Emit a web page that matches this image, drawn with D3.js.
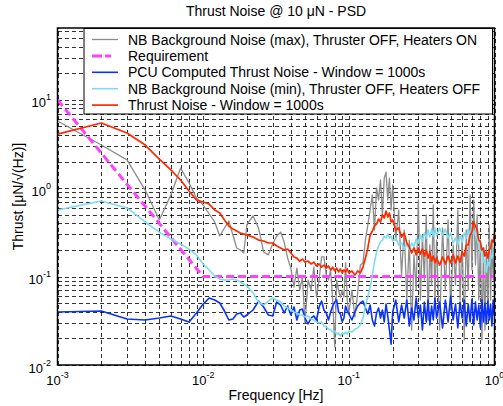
<!DOCTYPE html>
<html><head><meta charset="utf-8">
<script src="https://d3js.org/d3.v7.min.js"></script>
<style>
body{margin:0;background:#fff}
svg{display:block;font-family:"Liberation Sans",Arial,Helvetica,sans-serif}
</style>
</head><body>
<svg id="c" width="503" height="406"></svg>
<script>
// ---------------- DATA ----------------
const freq = [0.001,0.002,0.003,0.004,0.005,0.006,0.007,0.008,0.009,0.010,0.011,0.012,0.013,0.014,0.015,0.016,0.017,0.018,0.019,0.020,
0.022,0.024,0.026,0.028,0.030,0.032,0.034,0.036,0.038,0.040,0.042,0.044,0.046,0.048,0.050,
0.0525,0.055,0.0575,0.060,0.0625,0.065,0.0675,0.070,0.0725,0.075,0.0775,0.080,0.0825,0.085,0.0875,0.090,0.0925,0.095,0.0975,0.100,
0.105,0.110,0.115,0.120,0.125,0.130,0.135,0.140,0.145,0.150,0.155,0.160,0.165,0.170,0.175,0.180,0.185,0.190,0.195,0.200,
0.21,0.22,0.23,0.24,0.25,0.26,0.27,0.28,0.29,0.30,0.31,0.32,0.33,0.34,0.35,0.36,0.37,0.38,0.39,0.40,
0.42,0.44,0.46,0.48,0.50,0.52,0.54,0.56,0.58,0.60,0.62,0.64,0.66,0.68,0.70,0.72,0.74,0.76,0.78,0.80,0.82,0.84,0.86,0.88,0.90,0.92,0.94,0.96,0.98,1.00];

// NB Background Noise (max), Thruster OFF, Heaters ON
const bgMax = [5.76,3.08,2.09,0.954,0.437,0.838,1.69,1.15,0.775,0.646,0.511,0.415,0.288,0.355,0.426,0.296,0.211,0.200,0.185,0.393,
0.485,0.355,0.190,0.176,0.234,0.288,0.319,0.246,0.162,0.125,0.0762,0.125,0.0705,0.0989,0.0299,
0.0915,0.0705,0.128,0.0588,0.0915,0.167,0.167,0.104,0.0915,0.119,0.0544,0.0160,0.0915,0.0705,0.0588,0.0705,0.0588,0.143,0.0544,0.0388,
0.0705,0.0349,0.0652,0.135,0.143,0.259,0.384,0.567,0.838,0.337,1.01,0.736,1.24,0.498,1.30,1.52,0.736,1.30,0.567,1.09,
0.259,0.567,0.104,0.337,0.0544,0.259,0.0249,0.176,0.0705,0.736,0.0544,0.296,0.0915,0.498,0.0323,0.228,0.0804,0.646,0.0544,0.259,
0.0249,0.355,0.0705,0.437,0.0419,0.228,0.0804,0.567,0.0544,0.296,0.0192,0.337,0.0705,0.838,0.119,0.736,0.135,0.498,0.0544,0.259,0.0192,0.200,0.0249,0.228,0.0419,0.384,0.0544,0.259,0.0915,0.200];

// PCU Computed Thrust Noise - Window = 1000s
const pcuNoise = [0.0398,0.0408,0.0331,0.0323,0.0340,0.0359,0.0331,0.0307,0.0388,0.0489,0.0573,0.0544,0.0503,0.0408,0.0323,0.0331,0.0378,0.0388,0.0349,0.0368,
0.0419,0.0529,0.0453,0.0368,0.0359,0.0516,0.0477,0.0388,0.0465,0.0368,0.0453,0.0323,0.0419,0.0430,0.0340,
0.0291,0.0340,0.0359,0.0323,0.0453,0.0529,0.0419,0.0388,0.0323,0.0398,0.0465,0.0516,0.0544,0.0398,0.0378,0.0307,0.0340,0.0465,0.0408,0.0378,
0.0323,0.0398,0.0465,0.0503,0.0529,0.0442,0.0378,0.0477,0.0323,0.0276,0.0388,0.0442,0.0340,0.0419,0.0307,0.0489,0.0359,0.0249,0.0172,0.0398,
0.0544,0.0307,0.0477,0.0340,0.0544,0.0276,0.0442,0.0323,0.0573,0.0340,0.0477,0.0249,0.0516,0.0307,0.0544,0.0284,0.0465,0.0323,0.0573,0.0340,
0.0516,0.0262,0.0544,0.0307,0.0604,0.0323,0.0489,0.0262,0.0516,0.0340,0.0544,0.0276,0.0489,0.0307,0.0558,0.0284,0.0516,0.0323,0.0477,0.0262,0.0544,0.0307,0.0503,0.0291,0.0529,0.0323,0.0489,0.0276,0.0544,0.0359];

// NB Background Noise (min), Thruster OFF, Heaters OFF
const bgMin = [0.567,0.717,0.598,0.415,0.319,0.266,0.234,0.205,0.176,0.139,0.119,0.102,0.0939,0.0915,0.0915,0.0939,0.0915,0.0869,0.0825,0.0783,
0.0652,0.0516,0.0477,0.0529,0.0573,0.0544,0.0516,0.0465,0.0442,0.0419,0.0398,0.0388,0.0368,0.0368,0.0349,
0.0359,0.0331,0.0323,0.0307,0.0299,0.0307,0.0276,0.0269,0.0255,0.0249,0.0236,0.0242,0.0224,0.0230,0.0213,0.0230,0.0224,0.0236,0.0224,0.0242,
0.0236,0.0255,0.0262,0.0284,0.0340,0.0477,0.0588,0.0762,0.104,0.146,0.190,0.222,0.246,0.259,0.288,0.273,0.303,0.273,0.288,0.253,
0.273,0.228,0.240,0.205,0.234,0.200,0.240,0.216,0.266,0.240,0.296,0.253,0.311,0.273,0.337,0.280,0.345,0.288,0.355,0.288,
0.355,0.296,0.345,0.273,0.311,0.240,0.273,0.228,0.288,0.246,0.311,0.273,0.345,0.288,0.355,0.296,0.337,0.259,0.228,0.190,0.200,0.146,0.154,0.113,0.146,0.132,0.176,0.162,0.211,0.180];

// Thrust Noise - Window = 1000s
const thrustNoise = [4.10,5.47,4.21,3.08,2.14,1.61,1.24,0.930,0.736,0.698,0.662,0.567,0.524,0.437,0.374,0.345,0.328,0.311,0.303,0.296,
0.280,0.259,0.253,0.240,0.240,0.222,0.211,0.200,0.205,0.185,0.167,0.162,0.150,0.158,0.146,
0.150,0.139,0.146,0.132,0.139,0.128,0.135,0.125,0.132,0.119,0.128,0.116,0.125,0.113,0.122,0.110,0.119,0.113,0.122,0.110,
0.116,0.104,0.116,0.110,0.128,0.162,0.211,0.296,0.328,0.374,0.393,0.448,0.415,0.498,0.460,0.552,0.472,0.524,0.415,0.437,
0.337,0.355,0.280,0.311,0.240,0.216,0.185,0.211,0.176,0.211,0.180,0.205,0.171,0.200,0.162,0.190,0.150,0.171,0.143,0.162,
0.135,0.167,0.139,0.171,0.143,0.176,0.143,0.171,0.146,0.190,0.171,0.228,0.228,0.296,0.319,0.415,0.374,0.337,0.259,0.246,0.200,0.211,0.171,0.190,0.162,0.200,0.211,0.259,0.246,0.311];

// Requirement
const reqFreq = [0.001, 0.01, 1];
const reqVal  = [10, 0.1, 0.1];

const xTickVals = [1e-3, 1e-2, 1e-1, 1];
const xTickExp  = ["-3", "-2", "-1", "0"];
const yTickVals = [1e-2, 1e-1, 1, 10];
const yTickExp  = ["-2", "-1", "0", "1"];

const legendLabels = [
  "NB Background Noise (max), Thruster OFF, Heaters ON",
  "Requirement",
  "PCU Computed Thrust Noise - Window = 1000s",
  "NB Background Noise (min), Thruster OFF, Heaters OFF",
  "Thrust Noise - Window = 1000s"
];
const titleText = "Thrust Noise @ 10 \u03bcN - PSD";
const xLabelText = "Frequency [Hz]";
const yLabelText = "Thrust [\u03bcN/\u221a(Hz)]";

// ---------------- LAYOUT ----------------
const L = 57.5, R = 494.5, T = 28, B = 365;
const svg = d3.select("#c");
const x = d3.scaleLog().domain([1e-3, 1]).range([L, R]);
const y = d3.scaleLog().domain([0.01, 65]).range([B, T]);

// grid positions (decade x 1..9)
const xGrid = [], yGrid = [];
[1e-3, 1e-2, 1e-1].forEach(d => { for (let m = 1; m <= 9; m++) xGrid.push(d * m); });
xGrid.push(1);
[1e-2, 1e-1, 1, 10].forEach(d => { for (let m = 1; m <= 9; m++) if (d * m <= 65) yGrid.push(d * m); });

svg.append("rect").attr("x", 0).attr("y", 0).attr("width", 503).attr("height", 406).attr("fill", "#fff");

// grid via axes
const gx = svg.append("g").attr("transform", `translate(0,${B})`)
  .call(d3.axisBottom(x).tickValues(xGrid).tickSize(-(B - T)).tickFormat(""));
const gy = svg.append("g").attr("transform", `translate(${L},0)`)
  .call(d3.axisLeft(y).tickValues(yGrid).tickSize(-(R - L)).tickFormat(""));
[gx, gy].forEach(g => {
  g.select(".domain").remove();
  g.selectAll(".tick line").attr("stroke", "#000").attr("stroke-width", 0.8)
    .attr("stroke-dasharray", "4,3").attr("shape-rendering", "crispEdges");
});

// clip
svg.append("clipPath").attr("id", "clip").append("rect")
  .attr("x", L).attr("y", T).attr("width", R - L).attr("height", B - T);
const plot = svg.append("g").attr("clip-path", "url(#clip)");

const line = d3.line().x(d => x(d[0])).y(d => y(d[1]));

const series = [
  {vals: d3.zip(freq, bgMax), color: "#8c8c8c", w: 1.3, dash: null},
  {vals: d3.zip(reqFreq, reqVal), color: "#ff40ff", w: 3, dash: "8,4"},
  {vals: d3.zip(freq, pcuNoise), color: "#0a32ff", w: 1.6, dash: null},
  {vals: d3.zip(freq, bgMin), color: "#7fdcf0", w: 1.6, dash: null},
  {vals: d3.zip(freq, thrustNoise), color: "#ff2a00", w: 1.7, dash: null}
];
series.forEach(s => {
  plot.append("path").attr("d", line(s.vals)).attr("fill", "none")
    .attr("stroke", s.color).attr("stroke-width", s.w)
    .attr("stroke-linejoin", "round")
    .attr("stroke-dasharray", s.dash);
});

// frame
svg.append("rect").attr("x", L).attr("y", T).attr("width", R - L).attr("height", B - T)
  .attr("fill", "none").attr("stroke", "#000").attr("stroke-width", 1.5);

// tick labels
const xl = svg.append("g").selectAll("text").data(xTickVals).join("text")
  .attr("x", d => x(d)).attr("y", 385).attr("text-anchor", "middle")
  .attr("font-size", 13).attr("fill", "#000");
xl.append("tspan").text("10");
xl.append("tspan").attr("dy", -7).attr("font-size", 9).text((d, i) => xTickExp[i]);

const yl = svg.append("g").selectAll("text").data(yTickVals).join("text")
  .attr("x", 51).attr("y", d => y(d) + 7.5).attr("text-anchor", "end")
  .attr("font-size", 13).attr("fill", "#000");
yl.append("tspan").text("10");
yl.append("tspan").attr("dy", -7).attr("font-size", 9).text((d, i) => yTickExp[i]);

// titles
svg.append("text").attr("x", (L + R) / 2).attr("y", 16).attr("text-anchor", "middle")
  .attr("font-size", 14).text(titleText);
svg.append("text").attr("x", (L + R) / 2).attr("y", 399.5).attr("text-anchor", "middle")
  .attr("font-size", 14).text(xLabelText);
svg.append("text").attr("transform", `translate(22.5,${(T + B) / 2}) rotate(-90)`)
  .attr("text-anchor", "middle").attr("font-size", 14).text(yLabelText);

// legend
const lg = svg.append("g");
lg.append("rect").attr("x", 84).attr("y", 28.5).attr("width", 408.5).attr("height", 85.5)
  .attr("fill", "#fff").attr("stroke", "#000").attr("stroke-width", 1);
legendLabels.forEach((lab, i) => {
  const ry = 39.5 + i * 16.4;
  const s = series[i];
  lg.append("line").attr("x1", 92).attr("x2", 118).attr("y1", ry).attr("y2", ry)
    .attr("stroke", s.color).attr("stroke-width", s.w).attr("stroke-dasharray", s.dash ? "10,3,6,30" : null);
  lg.append("text").attr("x", 128).attr("y", ry + 5).attr("font-size", 14).text(lab);
});
</script>
</body></html>
